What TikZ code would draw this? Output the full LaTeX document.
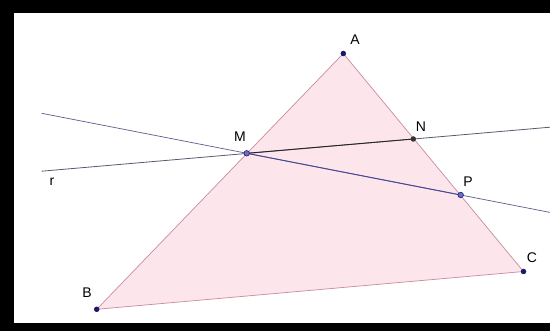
\documentclass[tikz,border=0pt]{standalone}
\usepackage{fontspec}
\setmainfont{Liberation Sans}
\definecolor{trifill}{RGB}{252,229,235}
\definecolor{triedge}{RGB}{200,140,160}
\definecolor{ptnavy}{RGB}{25,25,110}
\definecolor{ptlight}{RGB}{110,110,200}
\definecolor{lineblue}{RGB}{70,70,150}
\definecolor{linegray}{RGB}{90,90,110}
\begin{document}
\begin{tikzpicture}[x=1pt,y=-1pt,
  lbl/.style={font=\fontsize{14}{14}\selectfont, inner sep=0pt},
  dotnavy/.style={circle, fill=ptnavy, inner sep=0pt, minimum size=5.5pt},
  dotlight/.style={circle, fill=ptlight, draw=ptnavy, line width=0.6pt, inner sep=0pt, minimum size=5.5pt},
  dotdark/.style={circle, fill=black!80, inner sep=0pt, minimum size=5.5pt}]
\useasboundingbox (0,0) rectangle (550,331);
\fill[black] (0,0) rectangle (550,331);
\fill[white] (14,13) rectangle (550,323);
% points
\coordinate (A) at (343.3,53.5);
\coordinate (B) at (96.7,309.3);
\coordinate (C) at (523.5,271.5);
\coordinate (M) at (246.7,153.3);
\coordinate (N) at (413.3,139);
\coordinate (P) at (460.7,195);
\coordinate (rL) at (41.7,171.2);
\coordinate (rR) at (550,127.2);
\coordinate (bL) at (41.7,113.3);
\coordinate (bR) at (550,212.4);
% triangle
\fill[trifill] (A) -- (B) -- (C) -- cycle;
\draw[triedge, line width=0.7pt] (A) -- (B) -- (C) -- cycle;
% lines
\draw[linegray, line width=0.8pt] (rL) -- (rR);
\draw[black!85, line width=0.9pt] (M) -- (N);
\draw[lineblue!60!gray, line width=0.7pt] (bL) -- (bR);
\draw[lineblue, line width=0.9pt] (M) -- (P);
% dots
\node[dotnavy] (dA) at (A) {};
\node[dotnavy] (dB) at (B) {};
\node[dotnavy] (dC) at (C) {};
\node[dotlight] (dM) at (M) {};
\node[dotlight] (dP) at (P) {};
\node[dotdark] (dN) at (N) {};
% labels
\node[lbl] (lA) at (355,40) {A};
\node[lbl] (lB) at (87,293) {B};
\node[lbl] (lC) at (532,258) {C};
\node[lbl] (lM) at (240,137) {M};
\node[lbl] (lN) at (421,127) {N};
\node[lbl] (lP) at (468,182) {P};
\node[lbl] (lr) at (52,182) {r};
\end{tikzpicture}
\end{document}
